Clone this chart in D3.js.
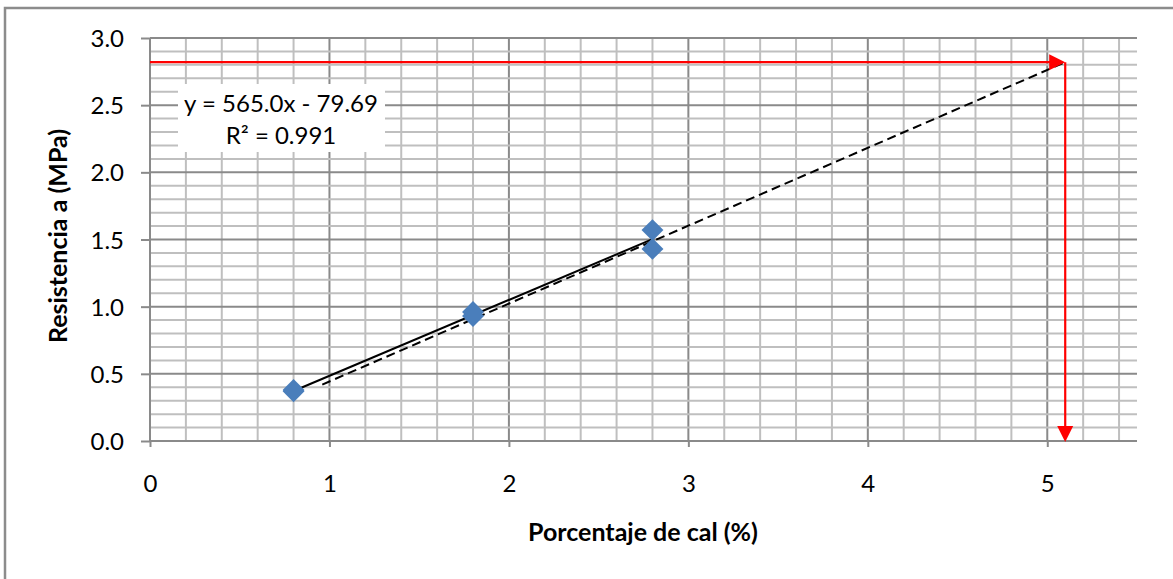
<!DOCTYPE html>
<html>
<head>
<meta charset="utf-8">
<script src="https://cdn.jsdelivr.net/npm/d3@7"></script>
<style>
  html, body { margin: 0; padding: 0; background: #fff; }
  svg { display: block; font-family: Lato, "Open Sans", sans-serif; }
</style>
</head>
<body>
<svg id="chart" width="1173" height="579"></svg>
<script>
// Lime content (%) vs. strength (MPa)
const cal = [0.8, 0.8, 1.8, 1.8, 2.8, 2.8];
const resistencia = [0.37, 0.38, 0.93, 0.96, 1.57, 1.43];

const xTicks = [0, 1, 2, 3, 4, 5];
const yTicks = [0, 0.5, 1.0, 1.5, 2.0, 2.5, 3.0];

// Linear fit as printed (kPa), converted to MPa for drawing
const trendSlope = 565.0;
const trendIntercept = -79.69;
const kPaPerMPa = 1000;
const trendLabel = ["y = 565.0x - 79.69", "R² = 0.991"];

// Extrapolation to the target strength
const projStart = [0.96, 0.42];
const target = [5.1, 2.82];

const xTitle = "Porcentaje de cal (%)";
const yTitle = "Resistencia a (MPa)";

const svg = d3.select("#chart");
const W = 1173, H = 579;
const plot = { left: 150, right: 1137, top: 38, bottom: 441 };

const x = d3.scaleLinear().domain([0, 5.5]).range([plot.left, plot.right]);
const y = d3.scaleLinear().domain([0, 3]).range([plot.bottom, plot.top]);

// outer chart frame
svg.append("rect")
  .attr("x", 5).attr("y", 8).attr("width", W + 20).attr("height", H + 20)
  .attr("fill", "#fff").attr("stroke", "#8c8c8c").attr("stroke-width", 2.5);

const minorColor = "#bfbfbf", majorColor = "#8a8a8a";

// gridlines
const vGrid = d3.range(1, 28).map(i => +(i * 0.2).toFixed(1));
const hGrid = d3.range(1, 31).map(i => +(i * 0.1).toFixed(1));
const isInt = v => Math.abs(v - Math.round(v)) < 1e-6;
const isHalf = v => Math.abs(v * 2 - Math.round(v * 2)) < 1e-6;

const grid = svg.append("g");
grid.selectAll("line.v").data(vGrid.filter(v => !isInt(v)).concat(vGrid.filter(isInt)))
  .join("line")
  .attr("x1", d => x(d)).attr("x2", d => x(d))
  .attr("y1", plot.top).attr("y2", plot.bottom)
  .attr("stroke", d => isInt(d) ? majorColor : minorColor)
  .attr("stroke-width", 2);
grid.selectAll("line.h").data(hGrid.filter(v => !isHalf(v)).concat(hGrid.filter(isHalf)))
  .join("line")
  .attr("x1", plot.left).attr("x2", plot.right)
  .attr("y1", d => y(d)).attr("y2", d => y(d))
  .attr("stroke", d => isHalf(d) ? majorColor : minorColor)
  .attr("stroke-width", 2);

// axes
const yAxis = svg.append("g")
  .attr("transform", `translate(${plot.left},0)`)
  .call(d3.axisLeft(y).tickValues(yTicks).tickFormat(d3.format(".1f")).tickSize(9).tickPadding(17));
const xAxis = svg.append("g")
  .attr("transform", `translate(0,${plot.bottom})`)
  .call(d3.axisBottom(x).tickValues(xTicks).tickFormat(d3.format("d")).tickSize(6).tickPadding(28));

[yAxis, xAxis].forEach(a => {
  a.select(".domain").attr("stroke", majorColor).attr("stroke-width", 2);
  a.selectAll(".tick line").attr("stroke", majorColor).attr("stroke-width", 2);
  a.selectAll(".tick text").attr("fill", "#000").style("font-size", "24px")
    .style("font-family", "Lato, 'Open Sans', sans-serif");
});
yAxis.selectAll(".tick text").attr("dy", "0.36em");
xAxis.select(".domain").attr("d", `M${plot.left},0H${plot.right}`);
yAxis.select(".domain").attr("d", `M0,${plot.bottom}V${plot.top}`);

// trendline label box
const box = svg.append("g");
box.append("rect").attr("x", 178).attr("y", 84).attr("width", 207).attr("height", 68).attr("fill", "#fff");
box.selectAll("text").data(trendLabel).join("text")
  .attr("x", 281).attr("y", (d, i) => 112 + i * 32)
  .attr("text-anchor", "middle").attr("fill", "#000")
  .style("font-size", "24px")
  .text(d => d);

// dashed extrapolation line
svg.append("line")
  .attr("x1", x(projStart[0])).attr("y1", y(projStart[1]))
  .attr("x2", x(target[0])).attr("y2", y(target[1]))
  .attr("stroke", "#000").attr("stroke-width", 2).attr("stroke-dasharray", "9,5");

// fitted trendline over the data range
const fit = v => (trendSlope * v + trendIntercept) / kPaPerMPa;
const xr = d3.extent(cal);
svg.append("line")
  .attr("x1", x(xr[0])).attr("y1", y(fit(xr[0])))
  .attr("x2", x(xr[1])).attr("y2", y(fit(xr[1])))
  .attr("stroke", "#000").attr("stroke-width", 2);

// data points
const diamond = d3.symbol(d3.symbolSquare, 240);
svg.append("g").selectAll("path").data(cal.map((c, i) => [c, resistencia[i]]))
  .join("path")
  .attr("d", diamond)
  .attr("transform", d => `translate(${x(d[0])},${y(d[1])}) rotate(45)`)
  .attr("fill", "#4a7ebb");

// red projection arrows
const red = "#ff0000";
svg.append("line")
  .attr("x1", x(0)).attr("y1", y(target[1]))
  .attr("x2", x(target[0]) - 14).attr("y2", y(target[1]))
  .attr("stroke", red).attr("stroke-width", 2.2);
svg.append("line")
  .attr("x1", x(target[0])).attr("y1", y(target[1]))
  .attr("x2", x(target[0])).attr("y2", y(0) - 14)
  .attr("stroke", red).attr("stroke-width", 2.2);
const tx = x(target[0]), ty = y(target[1]);
svg.append("path")
  .attr("d", `M${tx},${ty}L${tx - 16},${ty - 8}L${tx - 16},${ty + 8}Z`)
  .attr("fill", red);
const by = y(0) + 1;
svg.append("path")
  .attr("d", `M${tx},${by}L${tx - 8},${by - 16}L${tx + 8},${by - 16}Z`)
  .attr("fill", red);

// axis titles
svg.append("text")
  .attr("x", 643).attr("y", 541)
  .attr("text-anchor", "middle").attr("font-weight", "bold")
  .style("font-size", "25px").attr("fill", "#000")
  .text(xTitle);
svg.append("text")
  .attr("transform", "translate(67,236) rotate(-90)")
  .attr("text-anchor", "middle").attr("font-weight", "bold")
  .style("font-size", "25px").attr("fill", "#000")
  .text(yTitle);
</script>
</body>
</html>
